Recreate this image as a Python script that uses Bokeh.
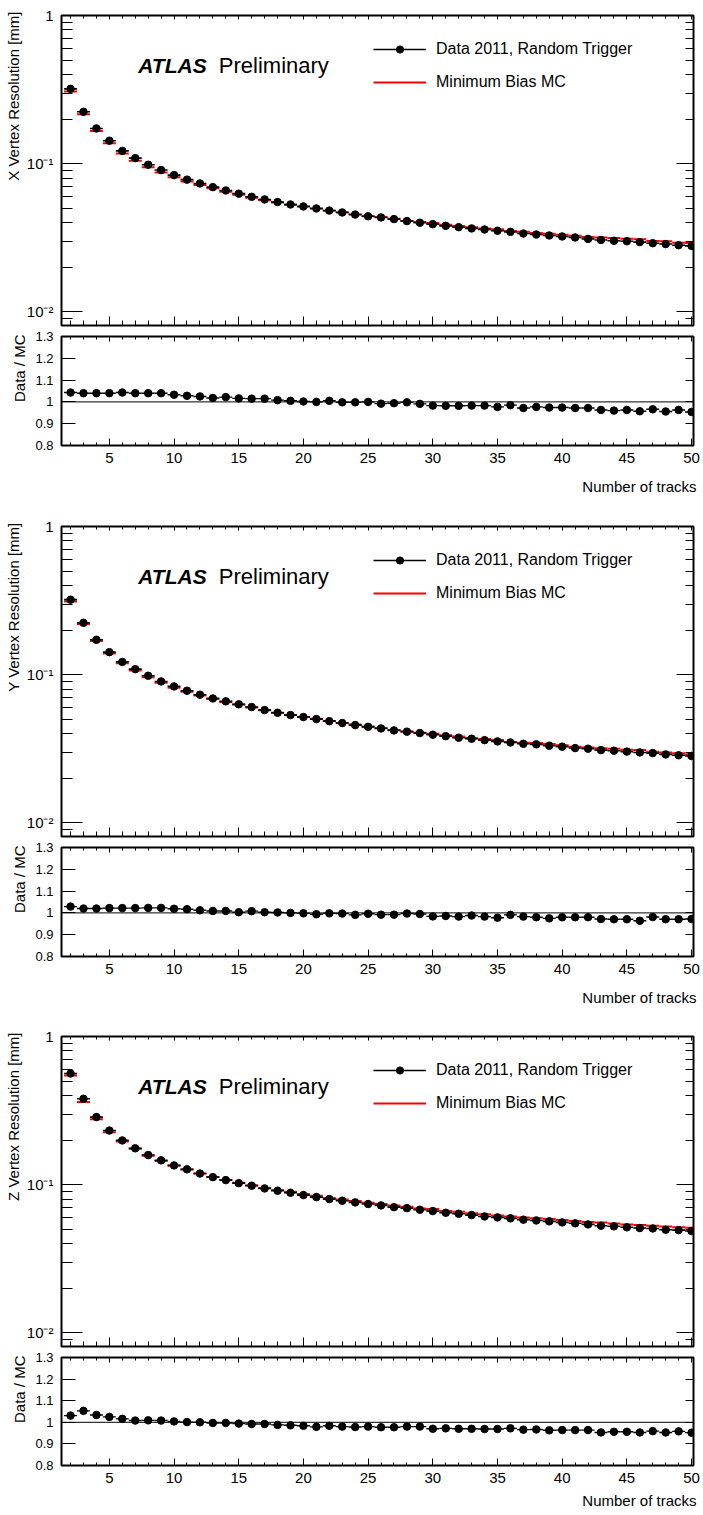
import numpy as np
from bokeh.plotting import figure
from bokeh.layouts import column
from bokeh.models import (LogAxis, LinearAxis, FixedTicker, SingleIntervalTicker,
                          CustomJSTickFormatter, Label, Legend, LegendItem, Span,
                          Title, Range1d)
from bokeh.embed import file_html
from bokeh.resources import INLINE

# ---------------- data ----------------
ntracks = list(range(2, 51))

x_data = [0.320, 0.224, 0.173, 0.143, 0.122, 0.109, 0.0984, 0.0906, 0.0838, 0.0781,
          0.0736, 0.0695, 0.0660, 0.0628, 0.0598, 0.0574, 0.0551, 0.0531, 0.0515, 0.0499,
          0.0483, 0.0469, 0.0454, 0.0442, 0.0434, 0.0423, 0.0410, 0.0400, 0.0391, 0.0381,
          0.0373, 0.0366, 0.0360, 0.0353, 0.0347, 0.0338, 0.0333, 0.0328, 0.0323, 0.0318,
          0.0311, 0.0306, 0.0302, 0.0300, 0.0296, 0.0291, 0.0287, 0.0282, 0.0279]
x_mc = [0.3068, 0.2154, 0.1663, 0.1375, 0.1170, 0.1048, 0.0946, 0.0871, 0.0811, 0.0760,
        0.0718, 0.0683, 0.0646, 0.0618, 0.0589, 0.0566, 0.0547, 0.0528, 0.0514, 0.0499,
        0.0481, 0.0470, 0.0455, 0.0442, 0.0437, 0.0426, 0.0411, 0.0404, 0.0398, 0.0388,
        0.0380, 0.0372, 0.0366, 0.0361, 0.0352, 0.0348, 0.0341, 0.0337, 0.0332, 0.0327,
        0.0320, 0.0318, 0.0315, 0.0312, 0.0309, 0.0301, 0.0300, 0.0293, 0.0292]
x_ratio = [1.043, 1.040, 1.040, 1.040, 1.043, 1.040, 1.040, 1.040, 1.033, 1.028,
           1.025, 1.018, 1.022, 1.016, 1.015, 1.015, 1.008, 1.005, 1.002, 1.000,
           1.005, 0.998, 0.998, 1.000, 0.992, 0.994, 0.998, 0.991, 0.983, 0.982,
           0.982, 0.983, 0.983, 0.977, 0.985, 0.972, 0.977, 0.974, 0.974, 0.972,
           0.972, 0.963, 0.960, 0.963, 0.957, 0.966, 0.956, 0.963, 0.954]

y_data = [0.321, 0.224, 0.172, 0.142, 0.122, 0.109, 0.0984, 0.0901, 0.0834, 0.0780,
          0.0733, 0.0692, 0.0661, 0.0631, 0.0605, 0.0577, 0.0554, 0.0534, 0.0518, 0.0502,
          0.0486, 0.0472, 0.0457, 0.0445, 0.0434, 0.0421, 0.0413, 0.0404, 0.0394, 0.0385,
          0.0376, 0.0370, 0.0362, 0.0355, 0.0349, 0.0342, 0.0339, 0.0332, 0.0327, 0.0320,
          0.0317, 0.0310, 0.0307, 0.0303, 0.0299, 0.0296, 0.0290, 0.0286, 0.0283]
y_mc = [0.3120, 0.2196, 0.1686, 0.1389, 0.1194, 0.1067, 0.0962, 0.0881, 0.0818, 0.0767,
        0.0724, 0.0686, 0.0655, 0.0629, 0.0600, 0.0575, 0.0553, 0.0534, 0.0519, 0.0505,
        0.0487, 0.0473, 0.0461, 0.0447, 0.0437, 0.0424, 0.0414, 0.0406, 0.0400, 0.0390,
        0.0383, 0.0374, 0.0368, 0.0363, 0.0352, 0.0348, 0.0346, 0.0341, 0.0334, 0.0327,
        0.0323, 0.0319, 0.0316, 0.0312, 0.0310, 0.0302, 0.0299, 0.0295, 0.0291]
y_ratio = [1.029, 1.020, 1.020, 1.022, 1.022, 1.022, 1.023, 1.023, 1.019, 1.017,
           1.012, 1.009, 1.009, 1.003, 1.008, 1.003, 1.002, 1.000, 0.998, 0.994,
           0.998, 0.997, 0.991, 0.996, 0.992, 0.992, 0.997, 0.995, 0.984, 0.986,
           0.983, 0.988, 0.983, 0.978, 0.991, 0.983, 0.980, 0.975, 0.980, 0.980,
           0.980, 0.972, 0.971, 0.971, 0.964, 0.981, 0.971, 0.971, 0.972]

z_data = [0.563, 0.380, 0.286, 0.232, 0.199, 0.176, 0.1585, 0.146, 0.135, 0.127,
          0.119, 0.1125, 0.1074, 0.1025, 0.0985, 0.0944, 0.0911, 0.0883, 0.0851, 0.0825,
          0.0800, 0.0780, 0.0760, 0.0741, 0.0725, 0.0706, 0.0695, 0.0678, 0.0664, 0.0647,
          0.0637, 0.0624, 0.0611, 0.0602, 0.0593, 0.0581, 0.0574, 0.0566, 0.0557, 0.0549,
          0.0540, 0.0529, 0.0524, 0.0516, 0.0510, 0.0507, 0.0497, 0.0494, 0.0487]
z_mc = [0.5461, 0.3609, 0.2766, 0.2263, 0.1959, 0.1746, 0.1571, 0.1448, 0.1345, 0.1269,
        0.1190, 0.1128, 0.1077, 0.1031, 0.0993, 0.0952, 0.0922, 0.0896, 0.0865, 0.0843,
        0.0813, 0.0796, 0.0777, 0.0756, 0.0742, 0.0723, 0.0709, 0.0692, 0.0685, 0.0666,
        0.0657, 0.0643, 0.0631, 0.0621, 0.0610, 0.0601, 0.0594, 0.0588, 0.0578, 0.0570,
        0.0560, 0.0555, 0.0548, 0.0540, 0.0535, 0.0529, 0.0522, 0.0516, 0.0512]
z_ratio = [1.031, 1.053, 1.034, 1.025, 1.016, 1.008, 1.009, 1.008, 1.004, 1.001,
           1.000, 0.997, 0.997, 0.994, 0.992, 0.992, 0.988, 0.986, 0.984, 0.979,
           0.984, 0.980, 0.978, 0.980, 0.977, 0.977, 0.980, 0.980, 0.970, 0.972,
           0.970, 0.970, 0.969, 0.969, 0.972, 0.966, 0.967, 0.963, 0.964, 0.964,
           0.964, 0.953, 0.956, 0.956, 0.953, 0.959, 0.953, 0.958, 0.952]

y_labels = ["X Vertex Resolution [mm]", "Y Vertex Resolution [mm]", "Z Vertex Resolution [mm]"]
ratio_label = "Data / MC"
x_label = "Number of tracks"
legend_labels = ["Data 2011, Random Trigger", "Minimum Bias MC"]
log_major_ticks = [0.01, 0.1, 1.0]
log_minor_ticks = [0.009] + [k * 0.01 for k in range(2, 10)] + [k * 0.1 for k in range(2, 10)]
ratio_ticks = [0.8, 0.9, 1.0, 1.1, 1.2, 1.3]

FONT = "Liberation Sans"
XR = (1.3, 50.15)
YR = (0.0081, 1.0)
RR = (0.8, 1.3)

LOG_FMT = r"""
const e = Math.round(Math.log10(tick));
if (e === 0) { return "1"; }
const sup = {"-": "\u207b", "0": "\u2070", "1": "\u00b9", "2": "\u00b2", "3": "\u00b3",
             "4": "\u2074", "5": "\u2075", "6": "\u2076", "7": "\u2077", "8": "\u2078", "9": "\u2079"};
return "10" + String(e).split("").map(c => sup[c]).join("");
"""
RATIO_FMT = "return (Math.round(tick * 10) / 10).toString();"
EMPTY_FMT = "return '';"


def style_axis(ax, major_in, minor_in, labels=True, size="15px", standoff=6):
    ax.major_tick_in = int(major_in)
    ax.major_tick_out = 0
    ax.minor_tick_in = int(minor_in)
    ax.minor_tick_out = 0
    ax.axis_line_color = None
    ax.major_tick_line_color = "black"
    ax.minor_tick_line_color = "black"
    ax.major_tick_line_width = 1
    ax.minor_tick_line_width = 1
    if labels:
        ax.major_label_text_font = FONT
        ax.major_label_text_font_size = size
        ax.major_label_text_color = "black"
        ax.major_label_standoff = standoff
    else:
        ax.formatter = CustomJSTickFormatter(code=EMPTY_FMT)
        ax.major_label_text_font_size = "1px"
        ax.major_label_standoff = 0


def axis_title(p, text, side, standoff, offset):
    """Axis title flush with the end of the axis (ROOT style)."""
    p.add_layout(Title(text=text, align="right", text_font=FONT, text_font_size="15px",
                       text_font_style="normal", text_color="black",
                       offset=offset, standoff=standoff), side)


def base_fig(height, yr, log, top, bottom):
    p = figure(width=703, height=height, title=None,
               x_range=Range1d(*XR), y_range=Range1d(*yr),
               y_axis_type="log" if log else "linear",
               output_backend="svg", toolbar_location=None,
               min_border_left=61, min_border_right=10,
               min_border_top=top, min_border_bottom=bottom)
    p.grid.visible = False
    p.outline_line_color = "black"
    p.outline_line_width = 2
    p.background_fill_color = "white"
    p.border_fill_color = "white"
    return p


def main_fig(data, mc, ylabel):
    p = base_fig(330, YR, True, 15, 5)
    n = np.array(ntracks, dtype=float)
    d = np.array(data)
    m = np.array(mc)

    bx = p.xaxis[0]
    bx.ticker = SingleIntervalTicker(interval=5, num_minor_ticks=5)
    style_axis(bx, 9, 5, labels=False)

    ly = p.yaxis[0]
    ly.ticker = FixedTicker(ticks=log_major_ticks, minor_ticks=log_minor_ticks)
    ly.formatter = CustomJSTickFormatter(code=LOG_FMT)
    style_axis(ly, 21, 11, size="15px", standoff=8)
    axis_title(p, ylabel, "left", 4, -4)

    ry = LogAxis(ticker=FixedTicker(ticks=log_major_ticks, minor_ticks=log_minor_ticks))
    style_axis(ry, 17, 8, labels=False)
    p.add_layout(ry, "right")

    tx = LinearAxis(ticker=SingleIntervalTicker(interval=5, num_minor_ticks=5))
    style_axis(tx, 4, 3, labels=False)
    p.add_layout(tx, "above")

    mc_r = p.segment(x0=n - 0.5, y0=m, x1=n + 0.5, y1=m, line_color="red", line_width=2)
    seg_r = p.segment(x0=n - 0.5, y0=d, x1=n + 0.5, y1=d, line_color="black", line_width=1.6)
    dot_r = p.scatter(n, d, size=7.5, color="black")

    p.add_layout(Label(x=7.23, y=0.46, text="ATLAS", text_font=FONT, text_font_size="21px",
                       text_font_style="bold italic", text_baseline="alphabetic",
                       text_color="black"))
    p.add_layout(Label(x=13.46, y=0.46, text="Preliminary", text_font=FONT,
                       text_font_size="22px", text_baseline="alphabetic", text_color="black"))

    leg = Legend(items=[LegendItem(label=legend_labels[0], renderers=[seg_r, dot_r]),
                        LegendItem(label=legend_labels[1], renderers=[mc_r])],
                 location=(312, 234), orientation="vertical",
                 border_line_color=None, background_fill_alpha=0,
                 label_text_font=FONT, label_text_font_size="16px", label_text_color="black",
                 glyph_width=53, glyph_height=18, label_height=18, label_standoff=10,
                 spacing=15, padding=0, margin=0)
    p.add_layout(leg)
    return p


def ratio_fig(ratio, height, frame_h, xlabel_standoff):
    p = base_fig(height, RR, False, 6, height - 6 - frame_h)
    n = np.array(ntracks, dtype=float)
    r = np.array(ratio)

    bx = p.xaxis[0]
    bx.ticker = SingleIntervalTicker(interval=5, num_minor_ticks=5)
    style_axis(bx, 7, 3, size="15px", standoff=7)
    axis_title(p, x_label, "below", xlabel_standoff, -3)

    ly = p.yaxis[0]
    ly.ticker = FixedTicker(ticks=ratio_ticks, minor_ticks=[])
    ly.formatter = CustomJSTickFormatter(code=RATIO_FMT)
    style_axis(ly, 14, 0, size="13px", standoff=8)
    axis_title(p, ratio_label, "left", 10, -2)

    ry = LinearAxis(ticker=FixedTicker(ticks=ratio_ticks, minor_ticks=[]))
    style_axis(ry, 8, 0, labels=False)
    p.add_layout(ry, "right")

    tx = LinearAxis(ticker=SingleIntervalTicker(interval=5, num_minor_ticks=5))
    style_axis(tx, 5, 3, labels=False)
    p.add_layout(tx, "above")

    p.add_layout(Span(location=1.0, dimension="width", line_color="black", line_width=1))
    p.segment(x0=n - 0.5, y0=r, x1=n + 0.5, y1=r, line_color="black", line_width=1.4)
    p.scatter(n, r, size=7.5, color="black")
    return p


figs = [
    main_fig(x_data, x_mc, y_labels[0]), ratio_fig(x_ratio, 181, 109, 20),
    main_fig(y_data, y_mc, y_labels[1]), ratio_fig(y_ratio, 180, 109, 20),
    main_fig(z_data, z_mc, y_labels[2]), ratio_fig(z_ratio, 164, 108, 8),
]
layout = column(*figs, spacing=0)

open("out.html", "w").write(file_html(layout, INLINE))
